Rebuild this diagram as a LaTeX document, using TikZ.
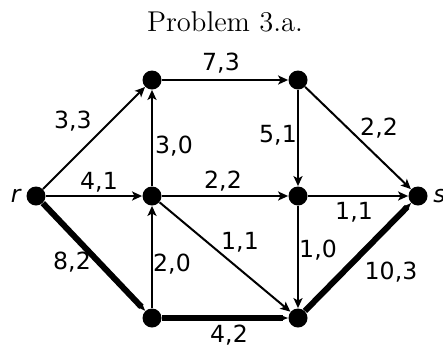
\documentclass[tikz,border=0pt]{standalone}
\usepackage{fontspec}
\usetikzlibrary{arrows.meta}
\newfontfamily\lblfont{DejaVu Sans}

\begin{document}
\begin{tikzpicture}[x=.5pt,y=-.5pt,
  vertex/.style={circle,fill=black,inner sep=0pt,minimum size=9.5pt},
  flow/.style={line width=1pt,-{Stealth[length=5pt,width=4.5pt,inset=1.2pt]}},
  heavy/.style={line width=3pt,-{Stealth[length=4pt,width=3pt,inset=1pt]}},
  arclbl/.style={font=\lblfont\fontsize{11.8}{13}\selectfont,inner sep=1pt}]
\path[use as bounding box] (0,0) rectangle (443,349);
\node[font=\fontsize{14.3}{17}\selectfont] (title) at (225,22) {Problem 3.a.};
% vertices
\node[vertex] (r) at (36,196) {};
\node[vertex] (a) at (152,80) {};
\node[vertex] (b) at (298,80) {};
\node[vertex] (c) at (152,196) {};
\node[vertex] (d) at (298,196) {};
\node[vertex] (s) at (418,196) {};
\node[vertex] (e) at (152,318) {};
\node[vertex] (f) at (298,318) {};
\node[anchor=east,font=\lblfont\itshape\fontsize{11.8}{13}\selectfont,inner sep=1pt] (rlbl) at (23,196) {r};
\node[anchor=west,font=\lblfont\itshape\fontsize{11.8}{13}\selectfont,inner sep=1pt] (slbl) at (431,196) {s};
% arcs
\draw[flow] (r) -- (a);
\draw[flow] (a) -- (b);
\draw[flow] (c) -- (a);
\draw[flow] (b) -- (d);
\draw[flow] (b) -- (s);
\draw[flow] (r) -- (c);
\draw[flow] (c) -- (d);
\draw[flow] (d) -- (s);
\draw[flow] (c) -- (f);
\draw[flow] (e) -- (c);
\draw[flow] (d) -- (f);
\draw[heavy] (r) -- (e);
\draw[heavy] (e) -- (f);
\draw[heavy] (f) -- (s);
% capacities, flows
\node[arclbl] (l1) at (73,121) {3,3};
\node[arclbl] (l2) at (221,63) {7,3};
\node[arclbl] (l3) at (174,146) {3,0};
\node[arclbl] (l4) at (278,135) {5,1};
\node[arclbl] (l5) at (379,128) {2,2};
\node[arclbl] (l6) at (99,182) {4,1};
\node[arclbl] (l7) at (223,181) {2,2};
\node[arclbl] (l8) at (354,212) {1,1};
\node[arclbl] (l9) at (240,242) {1,1};
\node[arclbl] (l10) at (172,264) {2,0};
\node[arclbl] (l11) at (318,250) {1,0};
\node[arclbl] (l12) at (72,262) {8,2};
\node[arclbl] (l13) at (229,335) {4,2};
\node[arclbl] (l14) at (391,272) {10,3};
\end{tikzpicture}
\end{document}
